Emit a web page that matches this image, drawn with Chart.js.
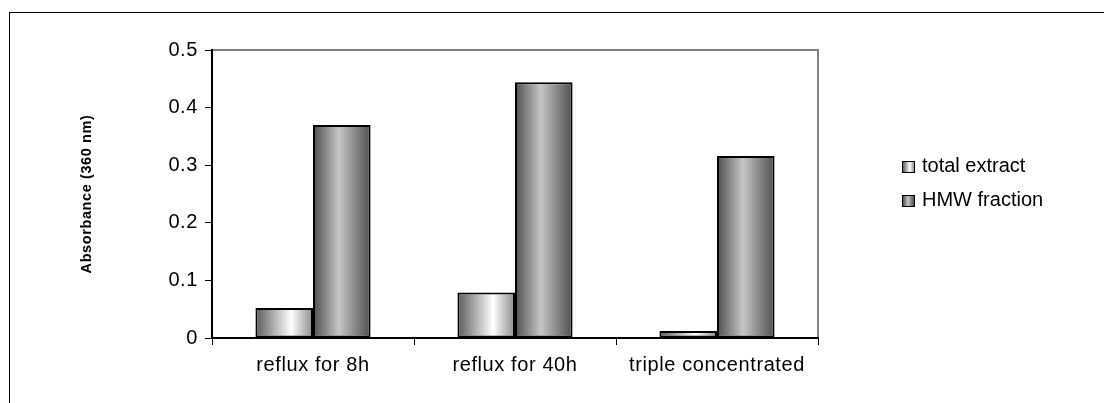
<!DOCTYPE html>
<html>
<head>
<meta charset="utf-8">
<script src="https://cdn.jsdelivr.net/npm/chart.js@4/dist/chart.umd.min.js"></script>
<style>
  html, body { margin: 0; padding: 0; background: #fff; overflow: hidden; }
  #wrap { position: relative; width: 1104px; height: 403px; }
  #frame { position: absolute; left: 9px; top: 12px; width: 1200px; height: 500px; border: 1px solid #000; }
  #legend { position: absolute; left: 902px; top: 148px; font: 20px "Liberation Sans", Arial, sans-serif; color: #000; }
  #legend .row { height: 34px; line-height: 34px; white-space: nowrap; }
  #legend .box { display: inline-block; width: 11px; height: 10px; border: 1px solid #000; margin-right: 7px; vertical-align: -1px; }
</style>
</head>
<body>
<div id="wrap">
  <div id="frame"></div>
  <canvas id="bar-chart" width="1104" height="403"></canvas>
  <div id="legend"></div>
</div>
<script>
// Absorbance at 360 nm per preparation
const categories = ['reflux for 8h', 'reflux for 40h', 'triple concentrated'];
const totalExtract = [0.052, 0.079, 0.012];
const hmwFraction = [0.370, 0.444, 0.316];
const yTicks = [0, 0.1, 0.2, 0.3, 0.4, 0.5];

// shading stops for each series, left to right across a bar
const shades = [
  [[0, '#5a5a5a'], [0.62, '#ffffff'], [1, '#8c8c8c']],
  [[0, '#4e4e4e'], [0.45, '#c6c6c6'], [1, '#4e4e4e']]
];

function makeGradient(ctx, x0, x1, stops) {
  const g = ctx.createLinearGradient(x0, 0, x1, 0);
  stops.forEach(s => g.addColorStop(s[0], s[1]));
  return g;
}

// give every bar its own horizontal shading once positions are known
const shadePlugin = {
  id: 'shade',
  beforeDatasetDraw(chart, args) {
    args.meta.data.forEach(bar => {
      const half = bar.width / 2;
      const grad = makeGradient(chart.ctx, bar.x - half, bar.x + half, shades[args.index]);
      bar.options = Object.assign({}, bar.options, { backgroundColor: grad });
    });
  }
};

// grey plot-area frame behind the axes, plus slightly looser axis lettering
const plotFrame = {
  id: 'plotFrame',
  beforeDraw(chart) {
    const a = chart.chartArea;
    const ctx = chart.ctx;
    ctx.save();
    ctx.strokeStyle = '#808080';
    ctx.lineWidth = 2;
    ctx.beginPath();
    ctx.moveTo(a.left, a.top);
    ctx.lineTo(a.right, a.top);
    ctx.lineTo(a.right, a.bottom);
    ctx.stroke();
    ctx.restore();
    ctx.letterSpacing = '0.6px';
  }
};

const barData = {
  labels: categories,
  datasets: [
    { label: 'total extract', data: totalExtract, backgroundColor: '#ddd', borderColor: '#000' },
    { label: 'HMW fraction', data: hmwFraction, backgroundColor: '#999', borderColor: '#000' }
  ]
};

const barOptions = {
  responsive: false,
  animation: false,
  events: [],
  layout: { padding: { top: 50, right: 286, bottom: 0, left: 0 } },
  datasets: {
    bar: {
      borderWidth: 2,
      borderSkipped: false,
      categoryPercentage: 0.57,
      barPercentage: 1.0
    }
  },
  plugins: { legend: { display: false }, tooltip: { enabled: false } },
  scales: {
    x: {
      offset: true,
      afterFit: scale => { scale.height = 65; },
      grid: { offset: true, drawOnChartArea: false, color: '#000', tickLength: 7, tickWidth: 1 },
      border: { color: '#000', width: 2 },
      ticks: { color: '#000', padding: 8, maxRotation: 0, font: { family: 'Liberation Sans', size: 20 } }
    },
    y: {
      min: 0,
      max: 0.5,
      afterFit: scale => { scale.width = 212; },
      afterBuildTicks: scale => { scale.ticks = yTicks.map(v => ({ value: v })); },
      grid: { drawOnChartArea: false, color: '#000', tickLength: 7 },
      border: { color: '#000', width: 2 },
      ticks: { color: '#000', padding: 7, font: { family: 'Liberation Sans', size: 20 } },
      title: {
        display: true,
        text: 'Absorbance (360 nm)',
        color: '#000',
        padding: { top: 78 },
        font: { family: 'Liberation Sans', size: 14.5, weight: 'bold' }
      }
    }
  }
};

const barChart = new Chart(document.getElementById('bar-chart'), {
  type: 'bar',
  data: barData,
  options: barOptions,
  plugins: [plotFrame, shadePlugin]
});

// legend built from the dataset labels
const legendEl = document.getElementById('legend');
barData.datasets.forEach((ds, i) => {
  const row = document.createElement('div');
  row.className = 'row';
  const box = document.createElement('span');
  box.className = 'box';
  const stops = shades[i].map(s => s[1] + ' ' + Math.round(s[0] * 100) + '%').join(', ');
  box.style.background = 'linear-gradient(to right, ' + stops + ')';
  row.appendChild(box);
  row.appendChild(document.createTextNode(ds.label));
  legendEl.appendChild(row);
});
</script>
</body>
</html>
